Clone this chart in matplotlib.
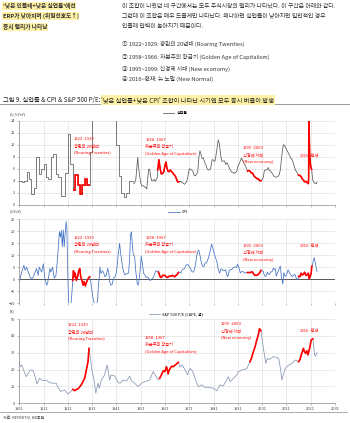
import numpy as np
import matplotlib.pyplot as plt

plt.rcParams['font.family'] = ['Noto Sans CJK KR', 'DejaVu Sans']

# ---------------- data ----------------
# unemployment, annual (1901-1947)
unemp_years = list(range(1901, 1948))
unemp_annual = [4.0, 3.7, 3.9, 5.4, 4.3, 1.7, 2.8, 8.0, 5.1, 5.9,
                6.7, 4.6, 4.3, 7.9, 8.5, 5.1, 4.6, 1.4, 1.4, 5.2,
                11.7, 6.7, 2.4, 5.0, 3.2, 1.8, 3.3, 4.2, 3.2, 8.7,
                15.9, 23.6, 24.9, 21.7, 20.1, 16.9, 14.3, 19.0, 17.2, 14.6,
                9.9, 4.7, 1.9, 1.2, 1.9, 3.9, 3.9]
# unemployment, monthly (read at turning points, 1948-)
unemp_m_x = [1948.0, 1948.5, 1949.0, 1949.5, 1949.8, 1950.0, 1950.5, 1951.0, 1951.5, 1952.0,
             1952.5, 1953.0, 1953.5, 1953.9, 1954.3, 1954.7, 1955.0, 1955.5, 1956.0, 1956.5,
             1957.0, 1957.5, 1957.9, 1958.0, 1958.5, 1959.0, 1959.5, 1960.0, 1960.5, 1961.0,
             1961.4, 1961.8, 1962.2, 1962.7, 1963.2, 1963.7, 1964.2, 1964.7, 1965.2, 1965.7,
             1966.2, 1966.7, 1967.0, 1967.5, 1968.0, 1968.5, 1969.0, 1969.5, 1970.0, 1970.5,
             1971.0, 1971.5, 1972.0, 1972.5, 1973.0, 1973.5, 1974.0, 1974.5, 1975.0, 1975.4,
             1975.8, 1976.3, 1976.8, 1977.3, 1977.8, 1978.3, 1978.8, 1979.3, 1979.8, 1980.4,
             1980.8, 1981.3, 1981.7, 1982.2, 1982.9, 1983.4, 1983.9, 1984.4, 1984.9, 1985.5,
             1986.0, 1986.5, 1987.0, 1987.5, 1988.0, 1988.5, 1989.0, 1989.5, 1990.0, 1990.5,
             1991.0, 1991.5, 1992.0, 1992.5, 1993.0, 1993.5, 1994.0, 1994.5, 1995.0, 1995.5,
             1996.0, 1996.5, 1997.0, 1997.5, 1998.0, 1998.5, 1999.0, 1999.5, 2000.0, 2000.5,
             2001.0, 2001.5, 2001.9, 2002.5, 2003.0, 2003.5, 2004.0, 2004.5, 2005.0, 2005.5,
             2006.0, 2006.5, 2007.0, 2007.5, 2008.0, 2008.5, 2009.0, 2009.5, 2009.8, 2010.3,
             2010.8, 2011.3, 2011.8, 2012.3, 2012.8, 2013.3, 2013.8, 2014.3, 2014.8, 2015.3,
             2015.8, 2016.0, 2016.5, 2017.0, 2017.5, 2018.0, 2018.5, 2019.0, 2019.5, 2020.0,
             2020.17, 2020.25, 2020.4, 2020.6, 2020.9, 2021.2, 2021.4, 2021.5, 2021.8, 2022.0,
             2022.5, 2023.0, 2023.3, 2023.6]
unemp_m_y = [3.6, 3.6, 4.3, 6.7, 7.9, 6.5, 5.0, 3.7, 3.1, 3.2,
             3.0, 2.9, 2.6, 4.5, 5.9, 5.9, 4.9, 4.0, 4.0, 4.2,
             3.9, 4.2, 4.6, 5.8, 7.5, 6.0, 5.1, 5.2, 5.5, 6.6,
             7.1, 6.1, 5.6, 5.5, 5.8, 5.5, 5.3, 5.0, 4.8, 4.3,
             3.8, 3.8, 3.8, 3.9, 3.7, 3.6, 3.4, 3.6, 3.9, 5.0,
             6.0, 5.9, 5.8, 5.5, 4.9, 4.8, 5.1, 5.5, 8.1, 9.0,
             8.4, 7.7, 7.8, 7.1, 6.7, 6.0, 5.8, 5.8, 6.0, 7.5,
             7.5, 7.2, 7.4, 8.8, 10.8, 10.1, 8.3, 7.2, 7.3, 7.3,
             6.7, 7.0, 6.6, 6.1, 5.7, 5.4, 5.4, 5.2, 5.4, 5.5,
             6.4, 6.8, 7.3, 7.8, 7.3, 6.9, 6.6, 6.1, 5.6, 5.7,
             5.6, 5.3, 5.3, 4.9, 4.6, 4.5, 4.3, 4.3, 4.0, 4.0,
             4.2, 4.6, 5.7, 5.8, 5.8, 6.2, 5.7, 5.6, 5.3, 5.0,
             4.7, 4.6, 4.6, 4.7, 5.0, 5.8, 7.8, 9.5, 10.0, 9.8,
             9.4, 9.0, 8.6, 8.2, 7.8, 7.5, 7.0, 6.3, 5.7, 5.4,
             5.0, 4.9, 4.9, 4.7, 4.3, 4.1, 3.8, 3.9, 3.7, 3.5,
             4.4, 14.7, 11.1, 8.4, 6.7, 6.0, 5.9, 5.4, 4.2, 4.0,
             3.6, 3.5, 3.5, 3.8]

# CPI, %YoY
cpi_x = [1901.0, 1901.5, 1902.0, 1902.9, 1903.4, 1904.0, 1904.7, 1905.4, 1906.1, 1906.8,
         1907.5, 1908.1, 1908.8, 1909.2, 1910.2, 1910.9, 1911.6, 1912.3, 1912.7, 1913.6,
         1914.0, 1914.7, 1915.4, 1916.1, 1916.6, 1917.0, 1917.5, 1917.9, 1918.3, 1918.7,
         1919.1, 1919.5, 1919.8, 1920.3, 1920.6, 1920.9, 1921.3, 1921.7, 1922.2, 1922.6,
         1923.0, 1923.3, 1923.7, 1924.0, 1924.5, 1925.0, 1925.5, 1925.9, 1926.3, 1926.8,
         1927.3, 1927.7, 1928.2, 1928.6, 1929.0, 1929.5, 1930.0, 1930.4, 1930.8, 1931.2,
         1931.6, 1932.0, 1932.5, 1932.9, 1933.3, 1933.6, 1933.9, 1934.2, 1934.6, 1935.3,
         1935.8, 1936.3, 1936.8, 1937.4, 1937.8, 1938.3, 1938.8, 1939.3, 1939.8, 1940.4,
         1940.9, 1941.3, 1941.7, 1942.3, 1942.7, 1943.2, 1943.6, 1944.0, 1944.5, 1945.0,
         1945.5, 1946.0, 1946.4, 1946.8, 1947.2, 1947.6, 1948.0, 1948.5, 1948.9, 1949.5,
         1949.9, 1950.3, 1950.8, 1951.2, 1951.6, 1952.2, 1952.7, 1953.2, 1953.7, 1954.3,
         1954.8, 1955.3, 1955.8, 1956.3, 1956.8, 1957.3, 1957.8, 1958.3, 1958.7, 1959.0,
         1959.5, 1960.0, 1960.5, 1961.0, 1961.5, 1962.0, 1962.5, 1963.0, 1963.5, 1964.0,
         1964.5, 1965.0, 1965.5, 1966.0, 1966.5, 1967.0, 1967.5, 1968.0, 1968.5, 1969.0,
         1969.5, 1970.0, 1970.5, 1971.0, 1971.5, 1972.0, 1972.5, 1973.0, 1973.5, 1974.0,
         1974.5, 1974.9, 1975.5, 1976.0, 1976.5, 1977.0, 1977.5, 1978.0, 1978.5, 1979.0,
         1979.5, 1980.2, 1980.6, 1981.0, 1981.5, 1982.0, 1982.5, 1983.0, 1983.5, 1984.0,
         1984.5, 1985.0, 1985.5, 1986.0, 1986.5, 1986.9, 1987.5, 1988.0, 1988.5, 1989.0,
         1989.5, 1990.0, 1990.5, 1990.9, 1991.5, 1992.0, 1992.5, 1993.0, 1993.5, 1994.0,
         1994.5, 1995.0, 1995.5, 1996.0, 1996.5, 1997.0, 1997.5, 1998.0, 1998.5, 1999.0,
         1999.5, 2000.0, 2000.5, 2001.0, 2001.5, 2001.9, 2002.5, 2002.9, 2003.2, 2003.6,
         2004.0, 2004.5, 2005.0, 2005.7, 2006.0, 2006.5, 2006.8, 2007.3, 2007.9, 2008.5,
         2008.9, 2009.5, 2009.9, 2010.5, 2011.0, 2011.7, 2012.2, 2012.8, 2013.3, 2013.8,
         2014.4, 2014.9, 2015.3, 2015.8, 2016.0, 2016.5, 2017.0, 2017.5, 2018.0, 2018.5,
         2019.0, 2019.5, 2020.0, 2020.4, 2020.8, 2021.2, 2021.4, 2021.5, 2021.8, 2022.0,
         2022.45, 2022.8, 2023.0, 2023.4, 2023.6]
cpi_y = [-1.1, 1.0, 3.0, 5.8, 3.7, 5.0, 3.0, 1.0, 0.0, 1.0,
         3.0, 4.4, 1.6, 5.0, 3.0, 6.4, -0.4, -2.5, -1.4, 4.4,
         3.0, 5.0, 0.4, 1.6, 7.0, 12.0, 19.7, 17.5, 20.2, 13.5,
         20.5, 13.5, 18.0, 23.9, 21.0, 5.0, -10.5, -15.5, -11.0, -6.5,
         -0.5, 3.5, 1.0, 2.5, -0.5, 1.0, 3.6, 4.4, 1.0, -0.5,
         -2.5, -1.0, -2.8, -1.5, -0.5, 0.5, 1.0, -1.0, -4.0, -7.0,
         -9.0, -10.5, -11.0, -10.5, -8.0, -2.0, 0.0, 5.1, 2.4, 3.5,
         2.5, 1.0, 1.5, 4.5, 3.0, -1.5, -2.5, -2.0, 0.5, 1.0,
         2.5, 5.5, 10.0, 14.9, 11.0, 7.5, 4.5, 3.0, 1.8, 2.2,
         2.3, 2.6, 8.0, 18.5, 19.7, 13.0, 10.0, 9.5, 4.0, -1.5,
         -2.5, -0.5, 4.0, 9.5, 7.0, 2.5, 1.8, 0.7, 1.0, 0.5,
         -0.5, -0.3, 0.4, 1.0, 2.4, 3.6, 3.2, 3.0, 1.8, 1.0,
         0.7, 1.6, 1.6, 1.6, 1.0, 0.7, 1.1, 1.3, 1.3, 1.6,
         1.3, 1.0, 1.6, 1.9, 2.8, 3.0, 2.6, 3.7, 4.2, 4.4,
         5.5, 6.1, 6.0, 5.2, 4.4, 3.3, 2.9, 3.6, 5.7, 9.4,
         11.5, 12.2, 9.4, 6.7, 5.4, 5.2, 6.8, 6.8, 7.7, 9.3,
         11.3, 14.6, 13.0, 11.8, 9.6, 8.4, 6.7, 3.7, 2.5, 4.2,
         4.2, 3.5, 3.6, 3.9, 1.6, 1.1, 3.7, 4.0, 4.1, 4.7,
         5.0, 5.2, 4.8, 6.3, 4.7, 2.6, 3.1, 3.3, 2.8, 2.5,
         2.8, 2.8, 2.8, 2.7, 3.0, 3.0, 2.2, 1.6, 1.7, 1.7,
         2.1, 2.7, 3.7, 3.5, 3.2, 1.6, 1.1, 2.2, 3.0, 2.1,
         1.9, 3.1, 3.0, 4.7, 4.0, 4.3, 1.3, 2.6, 4.1, 5.5,
         1.1, -2.0, 2.7, 1.1, 1.6, 3.9, 2.7, 1.8, 1.1, 1.5,
         2.1, 0.8, -0.1, 0.2, 1.2, 1.0, 2.5, 1.7, 2.1, 2.9,
         1.6, 1.8, 2.5, 0.2, 1.2, 2.6, 5.0, 5.4, 6.2, 7.5,
         9.0, 7.1, 6.4, 4.0, 3.2]

# S&P 500 CAPE
cape_x = [1901.0, 1901.3, 1902.0, 1903.8, 1904.3, 1905.5, 1906.5, 1907.2, 1908.3, 1909.3,
          1910.7, 1912.0, 1913.4, 1914.8, 1916.2, 1916.8, 1918.0, 1919.6, 1921.0, 1921.8,
          1923.1, 1923.8, 1925.4, 1926.5, 1927.9, 1928.6, 1929.3, 1929.7, 1930.3, 1930.9,
          1931.7, 1932.5, 1933.4, 1933.9, 1934.8, 1936.1, 1937.2, 1938.2, 1938.8, 1940.3,
          1941.7, 1942.5, 1943.7, 1945.1, 1946.5, 1947.2, 1948.5, 1949.9, 1951.3, 1952.7,
          1954.7, 1956.1, 1957.0, 1958.2, 1958.8, 1959.5, 1960.3, 1960.9, 1961.6, 1962.3,
          1962.7, 1963.7, 1964.4, 1965.2, 1966.5, 1967.1, 1967.8, 1968.5, 1969.2, 1970.3,
          1970.7, 1971.2, 1972.0, 1972.7, 1973.6, 1974.7, 1976.1, 1977.4, 1978.8, 1980.9,
          1982.3, 1983.6, 1985.0, 1987.1, 1987.8, 1989.2, 1990.5, 1991.2, 1992.6, 1994.7,
          1996.0, 1996.6, 1997.4, 1998.1, 1998.8, 1999.4, 1999.9, 2000.5, 2001.4, 2002.5,
          2003.2, 2003.9, 2005.7, 2007.8, 2008.6, 2009.1, 2010.5, 2011.9, 2013.3, 2014.6,
          2016.0, 2016.6, 2017.1, 2018.0, 2018.4, 2018.9, 2019.4, 2019.8, 2020.2, 2020.6,
          2021.2, 2021.9, 2022.6, 2023.0, 2023.6]
cape_y = [24.7, 21.7, 22.7, 15.8, 16.8, 19.7, 19.7, 17.4, 11.5, 14.8,
          13.4, 13.8, 12.3, 11.9, 11.9, 9.9, 7.0, 7.9, 5.6, 6.4,
          8.3, 7.5, 8.9, 10.9, 14.8, 19.7, 24.7, 32.6, 26.7, 19.7,
          14.8, 6.0, 11.9, 8.9, 13.8, 16.8, 22.7, 13.8, 16.8, 16.2,
          12.3, 11.9, 13.8, 13.2, 16.2, 13.2, 11.9, 9.9, 11.9, 12.9,
          13.8, 18.8, 16.8, 13.8, 14.8, 16.8, 19.3, 18.8, 21.7, 17.4,
          19.7, 22.0, 21.7, 22.7, 24.3, 21.7, 22.7, 22.0, 19.7, 16.8,
          18.8, 20.7, 19.7, 17.8, 13.8, 9.9, 10.9, 9.5, 9.5, 8.9,
          7.5, 10.9, 10.3, 15.8, 12.9, 14.8, 16.8, 18.8, 19.7, 20.7,
          24.7, 26.7, 30.6, 33.6, 37.6, 40.5, 44.2, 43.0, 33.6, 23.7,
          26.7, 26.0, 27.7, 26.7, 20.0, 13.8, 20.7, 22.7, 23.7, 25.7,
          24.7, 26.0, 28.7, 32.6, 30.6, 29.7, 31.2, 28.7, 30.5, 33.0,
          37.6, 38.2, 28.7, 28.0, 30.0]

# highlighted periods (red)
red_unemp = [(1923, 1930), (1958.0, 1966.7), (1995.0, 2000.8), (2016.0, 2021.45)]
red_cpi = [(1923.0, 1930.0), (1958.3, 1966.6), (1995.0, 2000.6), (2016.0, 2021.5)]
red_cape = [(1923.0, 1929.8), (1958.5, 1966.6), (1995.8, 2000.6), (2016.0, 2022.0)]

period_labels = [['1922~1929', '광란의 20년대', '(Roaring Twenties)'],
                 ['1958~1967', '자본주의 황금기', '(Golden Age of Capitalism)'],
                 ['1995~2000', '신경제 시대', '(New economy)'],
                 ['2016~현재']]

xticks = list(range(1901, 2032, 10))

RED = '#ff0000'
W, H = 350, 423


def fp(x, y):
    # pixel position -> figure fraction
    return (x / W, 1 - y / H)


def style(ax, ylim, yticks, labels=False):
    ax.set_xlim(1901, 2031)
    ax.set_ylim(*ylim)
    ax.set_yticks(yticks)
    ax.set_xticks(xticks)
    ax.grid(True, color='#dcdcdc', lw=0.4)
    ax.set_axisbelow(True)
    for s in ['top', 'right']:
        ax.spines[s].set_visible(False)
    for s in ['left', 'bottom']:
        ax.spines[s].set_color('#8c8c8c')
        ax.spines[s].set_linewidth(0.5)
    ax.tick_params(labelsize=2.8, length=1.5, width=0.4, colors='#8c8c8c',
                   labelcolor='#404040', pad=1.5, labelbottom=labels)


def draw(ax, x, y, color, periods, label):
    x = np.asarray(x)
    y = np.asarray(y)
    ln, = ax.plot(x, y, color=color, lw=0.55, label=label)
    for s, e in periods:
        m = (x >= s) & (x <= e)
        if m.sum() > 1:
            ax.plot(x[m], y[m], color=RED, lw=1.2)
    return ln


def annotate(positions):
    for lines, (x, y) in zip(period_labels, positions):
        for i, t in enumerate(lines):
            fig.text(*fp(x, y + 7 * i), t, color=RED, fontsize=3.0, va='center', ha='left')


fig = plt.figure(figsize=(3.5, 4.23), dpi=100)
bg = fig.add_axes([0, 0, 1, 1])
bg.set_axis_off()
bg.set_xlim(0, W)
bg.set_ylim(H, 0)

# ---------------- header text ----------------
hl = dict(boxstyle='square,pad=0.12', fc='#fff2a6', ec='none')
for yy, t in zip([6, 16, 27], ["'낮은 인플레+낮은 실업률'에선", 'ERP가 낮아지며 (위험선호도↑)', '증시 랠리가 나타남']):
    bg.text(2.7, yy, t, fontsize=4.1, fontweight='bold', color='#333333', va='center', bbox=hl)

para = ['이 조합이 나왔던 네 구간에서는 모두 주식시장의 랠리가 나타났다. 이 구간은 아래와 같다.',
        '그런데 이 조합은 매우 드물게만 나타난다. 왜냐하면 실업률이 낮아지면 일반적인 경우',
        '인플레 압력이 높아지기 때문이다.']
for yy, t in zip([6, 16, 27], para):
    bg.text(121.7, yy, t, fontsize=4.25, color='#333333', va='center')

items = ['① 1922~1929: 광란의 20년대 (Roaring Twenties)',
         '② 1958~1966: 자본주의 황금기 (Golden Age of Capitalism)',
         '③ 1995~1999: 신경제 시대 (New economy)',
         '④ 2016~현재: 뉴 노멀 (New Normal)']
for yy, t in zip([44.3, 56.7, 69.3, 78.6], items):
    bg.text(121.7, yy, t, fontsize=4.1, color='#333333', va='center')

t1 = bg.text(2.7, 100, '그림 9. 실업률 & CPI & S&P 500 P/E: ', fontsize=4.5, color='#222222', va='center')
bg.annotate("'낮은 실업률+낮은 CPI' 조합이 나타난 시기엔 모두 증시 버블이 발생", xy=(1, 0.5),
            xycoords=t1, va='center', ha='left', fontsize=4.5, color='#222222', bbox=hl)
bg.plot([0, W], [104.5, 104.5], color='#8c8c8c', lw=0.6)

# ---------------- panel 1: unemployment ----------------
ax1 = fig.add_axes([19.3 / W, 1 - 204.7 / H, (335 - 19.3) / W, 84 / H])
style(ax1, (0, 14), range(0, 15, 2))
edges = np.array(unemp_years + [1948])
vals = np.array(unemp_annual)
ax1.stairs(vals, edges, color='#595959', lw=0.55, baseline=None)
for s, e in red_unemp[:1]:
    m = (edges[:-1] >= s) & (edges[:-1] < e)
    ax1.stairs(vals[m], np.append(edges[:-1][m], e), color=RED, lw=1.2, baseline=None)
ln1 = draw(ax1, unemp_m_x, unemp_m_y, '#595959', red_unemp[1:], '실업률')
fig.legend(handles=[ln1], loc='center', bbox_to_anchor=fp(175, 113), frameon=False,
           fontsize=2.8, handlelength=3, handletextpad=0.6, borderpad=0)
fig.text(*fp(10, 114), '(%,%YoY)', fontsize=2.6, color='#404040', va='center')
annotate([(74, 139), (145.3, 140), (242.7, 148), (300, 155)])

# ---------------- panel 2: CPI ----------------
ax2 = fig.add_axes([19.3 / W, 1 - 303.3 / H, (335 - 19.3) / W, 84.3 / H])
style(ax2, (-10, 25), range(-10, 26, 5))
ax2.spines['bottom'].set_visible(False)
ax2.axhline(0, color='#404040', lw=0.6, zorder=1)
ln2 = draw(ax2, cpi_x, cpi_y, '#4472c4', red_cpi, 'CPI')
fig.legend(handles=[ln2], loc='center', bbox_to_anchor=fp(178, 212), frameon=False,
           fontsize=2.8, handlelength=3, handletextpad=0.6, borderpad=0)
fig.text(*fp(10, 211.7), '(%YoY)', fontsize=2.6, color='#404040', va='center')
annotate([(74, 237.7), (145.3, 238.3), (242.7, 245.7), (299.3, 245.7)])

# ---------------- panel 3: CAPE ----------------
ax3 = fig.add_axes([19.3 / W, 1 - 403.3 / H, (335 - 19.3) / W, 84.3 / H])
style(ax3, (0, 50), range(0, 51, 10), labels=True)
ln3 = draw(ax3, cape_x, cape_y, '#8596b0', red_cape, 'S&P 500 P/E (CAPE, 점)')
fig.legend(handles=[ln3], loc='center', bbox_to_anchor=fp(176, 314), frameon=False,
           fontsize=2.8, handlelength=3, handletextpad=0.6, borderpad=0)
fig.text(*fp(10, 311), '(X)', fontsize=2.6, color='#404040', va='center')
annotate([(67.7, 325), (145, 338.3), (221, 324), (299.3, 330)])

bg.plot([0, 347], [411.7, 411.7], color='#8c8c8c', lw=0.5)
bg.text(2.7, 417.7, '자료: REFINITIV, KB증권', fontsize=2.8, color='#404040', va='center')

fig.savefig('out.png', dpi=100)
